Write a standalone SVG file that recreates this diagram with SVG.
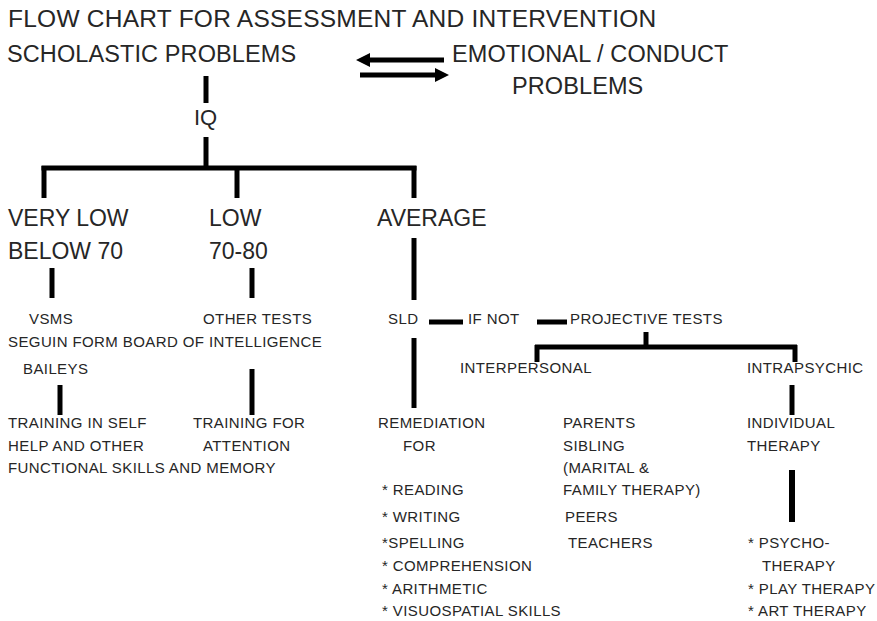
<svg xmlns="http://www.w3.org/2000/svg" width="877" height="621" viewBox="0 0 877 621">
<defs>
<style>
text{font-family:"Liberation Sans",Arial,sans-serif;fill:#262626}
.t{font-size:24.5px;letter-spacing:0.25px}
.h{font-size:23.5px;letter-spacing:0.1px}
.m{font-size:23px}
.q{font-size:22px}
.s{font-size:15px;letter-spacing:0.4px}
.c line{stroke:#000;stroke-width:5}
</style>
<marker id="ah" viewBox="0 0 10 10" refX="0" refY="5" markerWidth="3.4" markerHeight="2.8" markerUnits="strokeWidth" orient="auto"><path d="M0 0L10 5L0 10Z" fill="#000"/></marker>
</defs>
<rect width="877" height="621" fill="#fff"/>
<g id="title"><text class="t" x="8" y="27">FLOW CHART FOR ASSESSMENT AND INTERVENTION</text></g>
<g id="scholastic"><text class="h" x="7" y="62">SCHOLASTIC PROBLEMS</text></g>
<g id="emotional"><text class="h" x="452" y="62">EMOTIONAL / CONDUCT</text><text class="h" x="512" y="94">PROBLEMS</text></g>
<g id="iq"><text class="q" x="194" y="125">IQ</text></g>
<g id="verylow"><text class="m" x="8" y="226">VERY LOW</text><text class="m" x="8" y="259">BELOW 70</text></g>
<g id="low"><text class="m" x="209" y="226">LOW</text><text class="m" x="209" y="259">70-80</text></g>
<g id="average"><text class="m" x="377" y="226">AVERAGE</text></g>
<g id="tests-low" class="s"><text x="29" y="324">VSMS</text><text x="203" y="324">OTHER TESTS</text><text x="8" y="347">SEGUIN FORM BOARD OF INTELLIGENCE</text><text x="23" y="374">BAILEYS</text></g>
<g id="sld"><text class="s" x="388" y="324">SLD</text></g>
<g id="ifnot"><text class="s" x="468" y="324">IF NOT</text></g>
<g id="projective"><text class="s" x="570" y="324">PROJECTIVE TESTS</text></g>
<g id="interpersonal"><text class="s" x="460" y="373">INTERPERSONAL</text></g>
<g id="intrapsychic"><text class="s" x="747" y="373">INTRAPSYCHIC</text></g>
<g id="training-self" class="s"><text x="8" y="428">TRAINING IN SELF</text><text x="8" y="451">HELP AND OTHER</text><text x="8" y="473">FUNCTIONAL SKILLS AND MEMORY</text></g>
<g id="training-attention" class="s"><text x="193" y="428">TRAINING FOR</text><text x="203" y="451">ATTENTION</text></g>
<g id="remediation" class="s"><text x="378" y="428">REMEDIATION</text><text x="403" y="451">FOR</text><text x="382" y="495">* READING</text><text x="382" y="522">* WRITING</text><text x="382" y="548">*SPELLING</text><text x="382" y="571">* COMPREHENSION</text><text x="382" y="594">* ARITHMETIC</text><text x="382" y="616">* VISUOSPATIAL SKILLS</text></g>
<g id="family" class="s"><text x="563" y="428">PARENTS</text><text x="563" y="451">SIBLING</text><text x="563" y="473">(MARITAL &amp;</text><text x="563" y="495">FAMILY THERAPY)</text><text x="565" y="522">PEERS</text><text x="568" y="548">TEACHERS</text></g>
<g id="individual" class="s"><text x="747" y="428">INDIVIDUAL</text><text x="747" y="451">THERAPY</text></g>
<g id="therapies" class="s"><text x="748" y="548">* PSYCHO-</text><text x="762" y="571">THERAPY</text><text x="748" y="594">* PLAY THERAPY</text><text x="748" y="616">* ART THERAPY</text></g>
<g id="connectors" class="c">
<line x1="444" y1="60" x2="370" y2="60" marker-end="url(#ah)"/>
<line x1="360" y1="75" x2="435" y2="75" marker-end="url(#ah)"/>
<line x1="206" y1="76" x2="206" y2="103"/>
<line x1="206" y1="137" x2="206" y2="168"/>
<line x1="41.5" y1="168" x2="416.5" y2="168"/>
<line x1="44" y1="166" x2="44" y2="198"/>
<line x1="237" y1="166" x2="237" y2="198"/>
<line x1="414" y1="166" x2="414" y2="198"/>
<line x1="52" y1="268" x2="52" y2="298"/>
<line x1="252" y1="268" x2="252" y2="298"/>
<line x1="414" y1="238" x2="414" y2="300"/>
<line x1="414" y1="338" x2="414" y2="408"/>
<line x1="429" y1="322" x2="463" y2="322"/>
<line x1="537" y1="322" x2="567" y2="322"/>
<line x1="646" y1="332" x2="646" y2="348"/>
<line x1="535" y1="347" x2="797" y2="347"/>
<line x1="537" y1="345" x2="537" y2="362"/>
<line x1="795" y1="345" x2="795" y2="362"/>
<line x1="60" y1="385" x2="60" y2="415"/>
<line x1="252" y1="369" x2="252" y2="415"/>
<line x1="792" y1="385" x2="792" y2="415"/>
<line x1="792" y1="470" x2="792" y2="522" style="stroke-width:6"/>
</g>
</svg>
